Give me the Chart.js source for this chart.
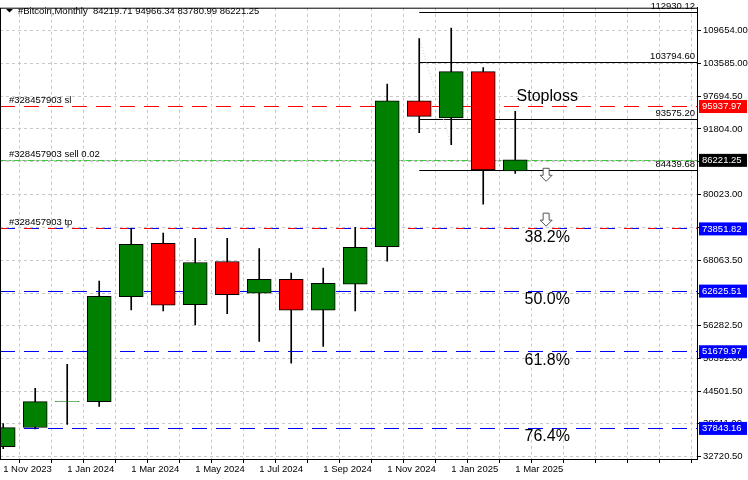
<!DOCTYPE html>
<html><head><meta charset="utf-8">
<script src="https://cdn.jsdelivr.net/npm/chart.js@4.4.1/dist/chart.umd.min.js"></script>
<style>html,body{margin:0;padding:0;background:#fff}#c{display:block}</style>
</head><body>
<div style="width:748px;height:480px"><canvas id="c" width="748" height="480"></canvas></div>
<script>
const months = ['1 Nov 2023','1 Dec 2023','1 Jan 2024','1 Feb 2024','1 Mar 2024','1 Apr 2024','1 May 2024','1 Jun 2024','1 Jul 2024','1 Aug 2024','1 Sep 2024','1 Oct 2024','1 Nov 2024','1 Dec 2024','1 Jan 2025','1 Feb 2025','1 Mar 2025'];
const opens  = [34465,37923,42560,42587,61543,71166,60096,67883,62142,64653,59092,63810,70565,96873,93769,102147,84219.71];
const highs  = [38641,44974,49333,64348,73911,73014,72063,72063,70215,65783,66680,74036,99919,108126,110009,102864,94966.34];
const lows   = [34106,37672,38461,41744,59146,58966,56455,58482,53458,49512,52562,58966,67937,91132,88980,78216,83780.99];
const closes = [37923,42587,42610,61603,70987,59989,67704,61891,64653,59092,63936,70448,96873,94074,102147,84388,86221.25];
const yTicks = [32720.5,38611,44501.5,50392,56282.5,62173,68063.5,74043,80023,85913.5,91804,97694.5,103585,109654];
const slLevel = 95937.97, sellLevel = 86221.25, tpLevel = 73851.82;
const fibLevels = [73851.82,62625.51,51679.97,37843.16];
const fibLabels = ['38.2%','50.0%','61.8%','76.4%'];
const swingLevels = [112930.12,103794.6,93575.2,84439.68];
const swingLabels = ['112930.12','103794.60','93575.20','84439.68'];
const arrowPrices = [84700,76600];

const idx = months.map((_,i)=>i);
const bodies = idx.map(i=>({x:i,y:[Math.min(opens[i],closes[i]),Math.max(opens[i],closes[i])]}));
const wicks = idx.map(i=>({x:i,y:[lows[i],highs[i]]}));
const bodyColors = idx.map(i=>closes[i]>=opens[i]?'#008000':'#ff0000');
const FONT = 'Liberation Sans';

const overlay = {
  id:'overlay',
  beforeDatasetsDraw(ch){
    const {ctx,chartArea:a,scales:{x,y}}=ch;
    ctx.save();
    const hl=(v,col,dash,x0)=>{ctx.strokeStyle=col;ctx.lineWidth=1;ctx.setLineDash(dash);ctx.beginPath();const py=Math.round(y.getPixelForValue(v))+0.5;ctx.moveTo(x0!==undefined?x0:a.left,py);ctx.lineTo(a.right,py);ctx.stroke();};
    hl(sellLevel,'#c0c0c0',[]);
    for(const v of fibLevels) hl(v,'#0000ff',[15,9]);
    hl(tpLevel,'#ff0000',[8,16]);
    hl(slLevel,'#ff0000',[15,9]);
    hl(sellLevel,'#32cd32',[6,3,2,3]);
    const sx=x.getPixelForValue(13);
    for(const v of swingLevels) hl(v,'#000',[],sx);
    ctx.strokeStyle='#c8c8c8';ctx.setLineDash([1,2]);ctx.beginPath();
    ctx.moveTo(sx,y.getPixelForValue(highs[13]));ctx.lineTo(x.getPixelForValue(14),y.getPixelForValue(lows[14]));ctx.stroke();
    ctx.restore();
  },
  afterDraw(ch){
    const {ctx,chartArea:a,scales:{x,y}}=ch;
    ctx.save();
    ctx.fillStyle='#000';ctx.font='9.5px '+FONT;ctx.textBaseline='bottom';ctx.textAlign='left';
    ctx.fillText('#328457903 sl',9,y.getPixelForValue(slLevel)-1);
    ctx.fillText('#328457903 sell 0.02',9,y.getPixelForValue(sellLevel)-1);
    ctx.fillText('#328457903 tp',9,y.getPixelForValue(tpLevel)-1);
    ctx.textAlign='right';
    swingLevels.forEach((v,i)=>ctx.fillText(swingLabels[i],a.right-2,y.getPixelForValue(v)-1));
    ctx.font='16px '+FONT;ctx.textAlign='center';ctx.textBaseline='top';
    const fx=x.getPixelForValue(17.0);
    fibLevels.forEach((v,i)=>ctx.fillText(fibLabels[i],fx,y.getPixelForValue(v)+1));
    ctx.textBaseline='middle';
    ctx.fillText('Stoploss',x.getPixelForValue(17.0),y.getPixelForValue(97660));
    arrowPrices.forEach(p=>{
      const cx=x.getPixelForValue(16.95)+0.5, ty=y.getPixelForValue(p);
      ctx.beginPath();ctx.moveTo(cx-3,ty);ctx.lineTo(cx+3,ty);ctx.lineTo(cx+3,ty+7);ctx.lineTo(cx+6,ty+7);ctx.lineTo(cx,ty+13);ctx.lineTo(cx-6,ty+7);ctx.lineTo(cx-3,ty+7);ctx.closePath();
      ctx.fillStyle='#fff';ctx.fill();ctx.strokeStyle='#555';ctx.lineWidth=1;ctx.stroke();
    });
    ctx.strokeStyle='#000';ctx.lineWidth=1;ctx.setLineDash([]);ctx.strokeRect(a.left+0.5,a.top+0.5,a.right-a.left,a.bottom-a.top);
    ctx.fillStyle='#000';ctx.font='9.5px '+FONT;ctx.textAlign='left';ctx.textBaseline='middle';
    ctx.beginPath();ctx.moveTo(6,9);ctx.lineTo(13,9);ctx.lineTo(9.5,12.5);ctx.closePath();ctx.fill();
    ctx.fillText('#Bitcoin,Monthly  84219.71 94966.34 83780.99 86221.25',18,11);
    const box=(v,bg)=>{const py=y.getPixelForValue(v);ctx.fillStyle=bg;ctx.fillRect(a.right+2,py-6,48,13);ctx.fillStyle='#fff';ctx.font='9.5px '+FONT;ctx.textAlign='left';ctx.fillText(v.toFixed(2),a.right+5,py+0.5);};
    box(slLevel,'#ff0000');box(sellLevel,'#000000');
    fibLevels.forEach(v=>box(v,'#0000ff'));
    ctx.restore();
  }
};

new Chart(document.getElementById('c'),{
  type:'bar',
  data:{datasets:[
    {data:wicks,backgroundColor:'#000',borderWidth:0,barThickness:1,grouped:false,order:2},
    {data:bodies,backgroundColor:bodyColors,borderColor:'#000',borderWidth:1,borderSkipped:false,barThickness:24,grouped:false,order:1}
  ]},
  options:{
    responsive:false,animation:false,
    layout:{padding:{top:5,left:0,right:0,bottom:0}},
    plugins:{legend:{display:false},tooltip:{enabled:false}},
    scales:{
      x:{type:'linear',min:-0.1,max:21.68,offset:false,
        afterBuildTicks(s){s.ticks=[];for(let i=0;i<=21;i++)s.ticks.push({value:i});},
        afterFit(s){s.height=21;},
        grid:{color:'#c8c8c8',tickLength:4,tickColor:'#000',drawTicks:true},
        border:{display:true,color:'#000',dash:[3,3]},
        ticks:{autoSkip:false,maxRotation:0,align:'start',padding:1,color:'#000',font:{family:FONT,size:9.5},
          callback:(v)=>(v%2===0&&v<=16)?months[v]:''}
      },
      y:{position:'right',min:32236,max:113683,
        afterBuildTicks(s){s.ticks=yTicks.map(v=>({value:v}));},
        afterFit(s){s.width=51;},
        grid:{color:'#c8c8c8',tickLength:4,tickColor:'#000'},
        border:{display:true,color:'#000',dash:[3,3]},
        ticks:{color:'#000',padding:2,font:{family:FONT,size:9.5},callback:v=>v.toFixed(2)}
      }
    }
  },
  plugins:[overlay]
});
</script>
</body></html>
